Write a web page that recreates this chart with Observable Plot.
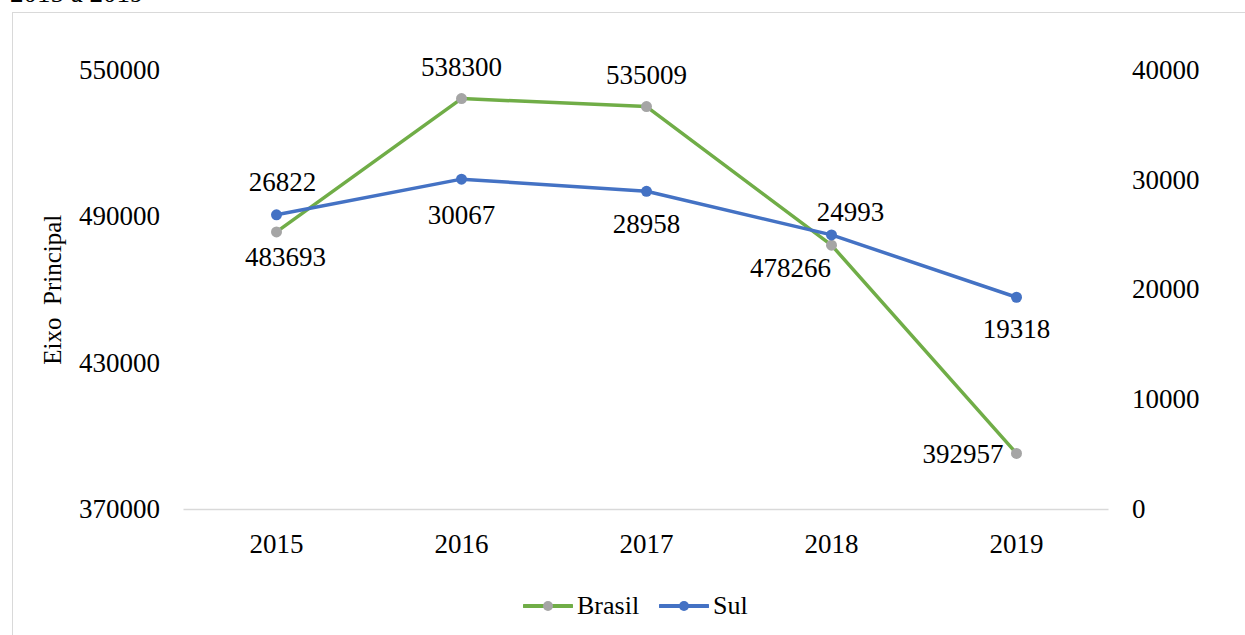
<!DOCTYPE html>
<html>
<head>
<meta charset="utf-8">
<script src="https://cdn.jsdelivr.net/npm/d3@7"></script>
<script src="https://cdn.jsdelivr.net/npm/@observablehq/plot@0.6"></script>
<style>
  html, body { margin: 0; padding: 0; background: #fff; overflow: hidden; }
  body { width: 1245px; height: 635px; position: relative; font-family: "Liberation Serif", "Times New Roman", serif; }
  #title { position: absolute; left: 10px; top: -20px; font-size: 27px; line-height: 1; color: #000; white-space: nowrap; }
  #frame { position: absolute; left: 12px; top: 12px; width: 1245px; height: 640px; border: 1px solid #d9d9d9; box-sizing: border-box; }
  #chart { position: absolute; left: 0; top: 0; }
  #legend { position: absolute; left: 523px; top: 591px; display: flex; align-items: center; font-size: 26px; color: #000; }
  #legend .item { display: flex; align-items: center; margin-right: 20px; }
  #legend svg { margin-right: 4px; }
</style>
</head>
<body>
<div id="title">2015 a 2019</div>
<div id="frame"></div>
<div id="chart"></div>
<div id="legend"></div>
<script>
const years = ["2015", "2016", "2017", "2018", "2019"];
const brasil = [483693, 538300, 535009, 478266, 392957];
const sul = [26822, 30067, 28958, 24993, 19318];
const leftTicks = [370000, 430000, 490000, 550000];
const rightTicks = [0, 10000, 20000, 30000, 40000];
const seriesNames = ["Brasil", "Sul"];

const leftDomain = [370000, 550000];
const rightDomain = [0, 40000];
const toLeft = v => leftDomain[0] + (v - rightDomain[0]) * (leftDomain[1] - leftDomain[0]) / (rightDomain[1] - rightDomain[0]);
const fromLeft = v => rightDomain[0] + (v - leftDomain[0]) * (rightDomain[1] - rightDomain[0]) / (leftDomain[1] - leftDomain[0]);

const rows = years.map((year, i) => ({year, brasil: brasil[i], sul: sul[i], sulY: toLeft(sul[i])}));

const GREEN = "#70ad47", BLUE = "#4472c4", GRAY = "#a5a5a5";
const FS = 27;

function label(year, key, yKey, opts) {
  return Plot.text(rows.filter(d => d.year === year), {
    x: "year", y: yKey, text: d => String(d[key]), fontSize: FS, fill: "#000", ...opts
  });
}

const chart = Plot.plot({
  width: 1245,
  height: 575,
  marginLeft: 183.5,
  marginRight: 136.5,
  marginTop: 69.5,
  marginBottom: 66,
  style: {fontFamily: "'Liberation Serif', 'Times New Roman', serif", fontSize: FS + "px", color: "#000", background: "transparent", overflow: "visible"},
  x: {type: "point", domain: years, padding: 0.5, label: null},
  y: {domain: leftDomain, label: null},
  marks: [
    Plot.ruleY([leftDomain[0]], {stroke: "#d9d9d9", strokeWidth: 1.5}),
    Plot.axisX({tickSize: 0, tickPadding: 24, fontSize: FS, label: null}),
    Plot.axisY(leftTicks, {anchor: "left", tickSize: 0, tickPadding: 24, fontSize: FS, tickFormat: d => String(d), label: null}),
    Plot.axisY(rightTicks.map(toLeft), {anchor: "right", tickSize: 0, tickPadding: 23, fontSize: FS, tickFormat: d => String(Math.round(fromLeft(d))), label: null}),
    Plot.text(["Eixo  Principal"], {frameAnchor: "left", textAnchor: "middle", rotate: -90, dx: -131, fontSize: 25, fill: "#000"}),
    Plot.line(rows, {x: "year", y: "brasil", stroke: GREEN, strokeWidth: 3.5}),
    Plot.dot(rows, {x: "year", y: "brasil", r: 5.5, fill: GRAY, stroke: "none"}),
    Plot.line(rows, {x: "year", y: "sulY", stroke: BLUE, strokeWidth: 3.5}),
    Plot.dot(rows, {x: "year", y: "sulY", r: 5.5, fill: BLUE, stroke: "none"}),
    // Brasil labels
    label("2015", "brasil", "brasil", {dx: 9, dy: 25}),
    label("2016", "brasil", "brasil", {dy: -31}),
    label("2017", "brasil", "brasil", {dy: -31}),
    label("2018", "brasil", "brasil", {dx: -41, dy: 23}),
    label("2019", "brasil", "brasil", {dx: -13, dy: 1, textAnchor: "end"}),
    // Sul labels
    label("2015", "sul", "sulY", {dx: 6, dy: -32}),
    label("2016", "sul", "sulY", {dy: 36}),
    label("2017", "sul", "sulY", {dy: 33}),
    label("2018", "sul", "sulY", {dx: 19, dy: -23}),
    label("2019", "sul", "sulY", {dy: 32})
  ]
});
document.getElementById("chart").appendChild(chart);

const legend = document.getElementById("legend");
const colors = {Brasil: [GREEN, GRAY], Sul: [BLUE, BLUE]};
seriesNames.forEach(name => {
  const [lc, mc] = colors[name];
  const item = document.createElement("div");
  item.className = "item";
  item.innerHTML = `<svg width="50" height="14"><line x1="1" y1="7" x2="49" y2="7" stroke="${lc}" stroke-width="4" stroke-linecap="round"/><circle cx="25" cy="7" r="5" fill="${mc}"/></svg><span>${name}</span>`;
  legend.appendChild(item);
});
</script>
</body>
</html>
